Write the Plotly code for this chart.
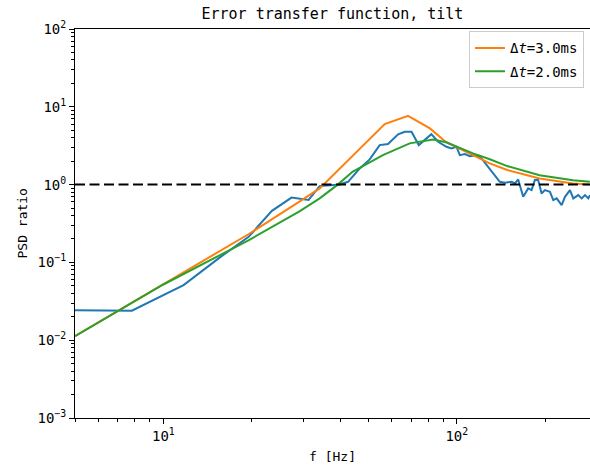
import numpy as np
import plotly.graph_objects as go

# Measured error transfer (blue)
f_meas = [3.906, 7.81, 11.72, 15.63, 19.53, 23.44, 27.34, 31.25, 34.1, 39.9, 42.6, 46.7, 50.5,
          54.6, 58.3, 63.1, 66.5, 70.1, 74.2, 81.9, 86.4, 92.2, 95.9, 99.8, 102.4, 106.5,
          110.8, 116.8, 121.4, 127.9, 133.0, 140.2, 145.8, 153.8, 157.8, 161.9, 168.4, 175.1,
          179.8, 184.5, 189.4, 194.5, 199.6, 207.7, 213.2, 218.9, 227.7, 233.7, 243.0, 249.5,
          259.4, 266.5, 273.5, 280.6, 284.4]
psd_meas = [0.0245, 0.0239, 0.051, 0.117, 0.213, 0.46, 0.68, 0.635, 0.957, 1.006, 1.086, 1.615, 2.11,
            3.22, 3.32, 4.42, 4.77, 4.77, 3.22, 4.45, 3.55, 3.06, 2.92, 3.06, 2.39, 2.47,
            2.32, 2.39, 2.17, 1.69, 1.39, 1.086, 1.054, 1.086, 1.036, 1.166, 0.697, 0.894,
            0.85, 1.142, 1.142, 0.77, 0.85, 0.808, 0.632, 0.665, 0.545, 0.697, 0.85, 0.665,
            0.733, 0.665, 0.733, 0.665, 0.733]

# Model, dt = 3.0 ms (orange)
f_m3 = [5.0, 10.0, 19.5, 29.0, 34.1, 56.8, 68.2, 81.0, 92.0, 113.5, 129.6, 148.5, 191.5, 248.8, 284.0]
psd_m3 = [0.0113, 0.053, 0.23, 0.60, 0.894, 6.0, 7.66, 5.27, 3.5, 2.39, 1.87, 1.54, 1.2, 1.036, 1.0]

# Model, dt = 2.0 ms (green)
f_m2 = [5.0, 10.0, 19.5, 29.0, 34.1, 39.3, 44.1, 56.0, 69.1, 83.0, 92.0, 99.8, 113.5, 129.6, 148.5, 191.5, 248.8, 284.0]
psd_m2 = [0.0113, 0.052, 0.192, 0.45, 0.665, 1.0, 1.46, 2.39, 3.39, 3.81, 3.5, 3.06, 2.52, 2.12, 1.73, 1.32, 1.14, 1.086]

x_range = [5.0, 284.4]
y_range = [1e-3, 1e2]
y_ticks = [1e-3, 1e-2, 1e-1, 1e0, 1e1, 1e2]
y_ticktext = ["10<sup>\u22123</sup>", "10<sup>\u22122</sup>", "10<sup>\u22121</sup>",
              "10<sup>0</sup>", "10<sup>1</sup>", "10<sup>2</sup>"]
x_ticks = [10, 100]
x_ticktext = ["10<sup>1</sup>", "10<sup>2</sup>"]

FONT = "DejaVu Sans Mono"

fig = go.Figure()
fig.add_trace(go.Scatter(x=f_meas, y=psd_meas, mode="lines",
                         line=dict(color="#1f77b4", width=2), showlegend=False))
fig.add_trace(go.Scatter(x=f_m3, y=psd_m3, mode="lines", legendgroup="a",
                         line=dict(color="#ff7f0e", width=2), name="\u0394<i>t</i>=3.0ms"))
fig.add_trace(go.Scatter(x=f_m2, y=psd_m2, mode="lines", legendgroup="b",
                         line=dict(color="#2ca02c", width=2), name="\u0394<i>t</i>=2.0ms"))

fig.add_shape(type="line", xref="paper", x0=0, x1=1, yref="y", y0=1, y1=1,
              line=dict(color="black", width=2, dash="10px,4.5px"))

minor_x = [m * 10 ** k for k in range(0, 3) for m in range(2, 10)]
minor_y = [m * 10.0 ** k for k in range(-3, 2) for m in range(2, 10)]

fig.update_xaxes(type="log", range=[np.log10(x_range[0]), np.log10(x_range[1])],
                 tickvals=x_ticks, ticktext=x_ticktext, ticks="outside", ticklen=5,
                 tickcolor="black", showline=True, linecolor="black", linewidth=1,
                 mirror=True, showgrid=False, zeroline=False, automargin=False,
                 minor=dict(tickvals=minor_x, ticks="outside", ticklen=3, tickcolor="black", showgrid=False),
                 tickfont=dict(size=14, family=FONT, color="black"))
fig.update_yaxes(type="log", range=[np.log10(y_range[0]), np.log10(y_range[1])],
                 tickvals=y_ticks, ticktext=y_ticktext, ticks="outside", ticklen=5,
                 tickcolor="black", showline=True, linecolor="black", linewidth=1,
                 mirror=False, showgrid=False, zeroline=False, automargin=False,
                 minor=dict(tickvals=minor_y, ticks="outside", ticklen=3, tickcolor="black", showgrid=False),
                 tickfont=dict(size=14, family=FONT, color="black"))

# axis titles as paper annotations for precise placement
fig.add_annotation(text="f [Hz]", xref="paper", yref="paper", x=0.5, y=0, yshift=-38,
                   xanchor="center", yanchor="middle", showarrow=False,
                   font=dict(size=13, family=FONT, color="black"))
fig.add_annotation(text="PSD ratio", xref="paper", yref="paper", x=0, xshift=-53, y=0.5,
                   xanchor="center", yanchor="middle", textangle=-90, showarrow=False,
                   font=dict(size=13, family=FONT, color="black"))

fig.update_layout(
    width=590, height=465,
    margin=dict(l=75, r=0, t=29, b=47, autoexpand=False),
    paper_bgcolor="white", plot_bgcolor="white",
    title=dict(text="Error transfer function, tilt", x=0.5635, xanchor="center",
               y=1, yref="paper", yanchor="bottom", pad=dict(b=10),
               font=dict(size=15, family=FONT, color="black")),
    legend=dict(x=0.765, y=0.994, xanchor="left", yanchor="top",
                bgcolor="white", bordercolor="#cccccc", borderwidth=1,
                tracegroupgap=2,
                font=dict(size=14, family=FONT, color="black")),
    font=dict(family=FONT, color="black"),
)

fig.write_html("out.html", config={"displayModeBar": False},
               post_script="document.body.style.margin='0';document.body.style.overflow='hidden';")
